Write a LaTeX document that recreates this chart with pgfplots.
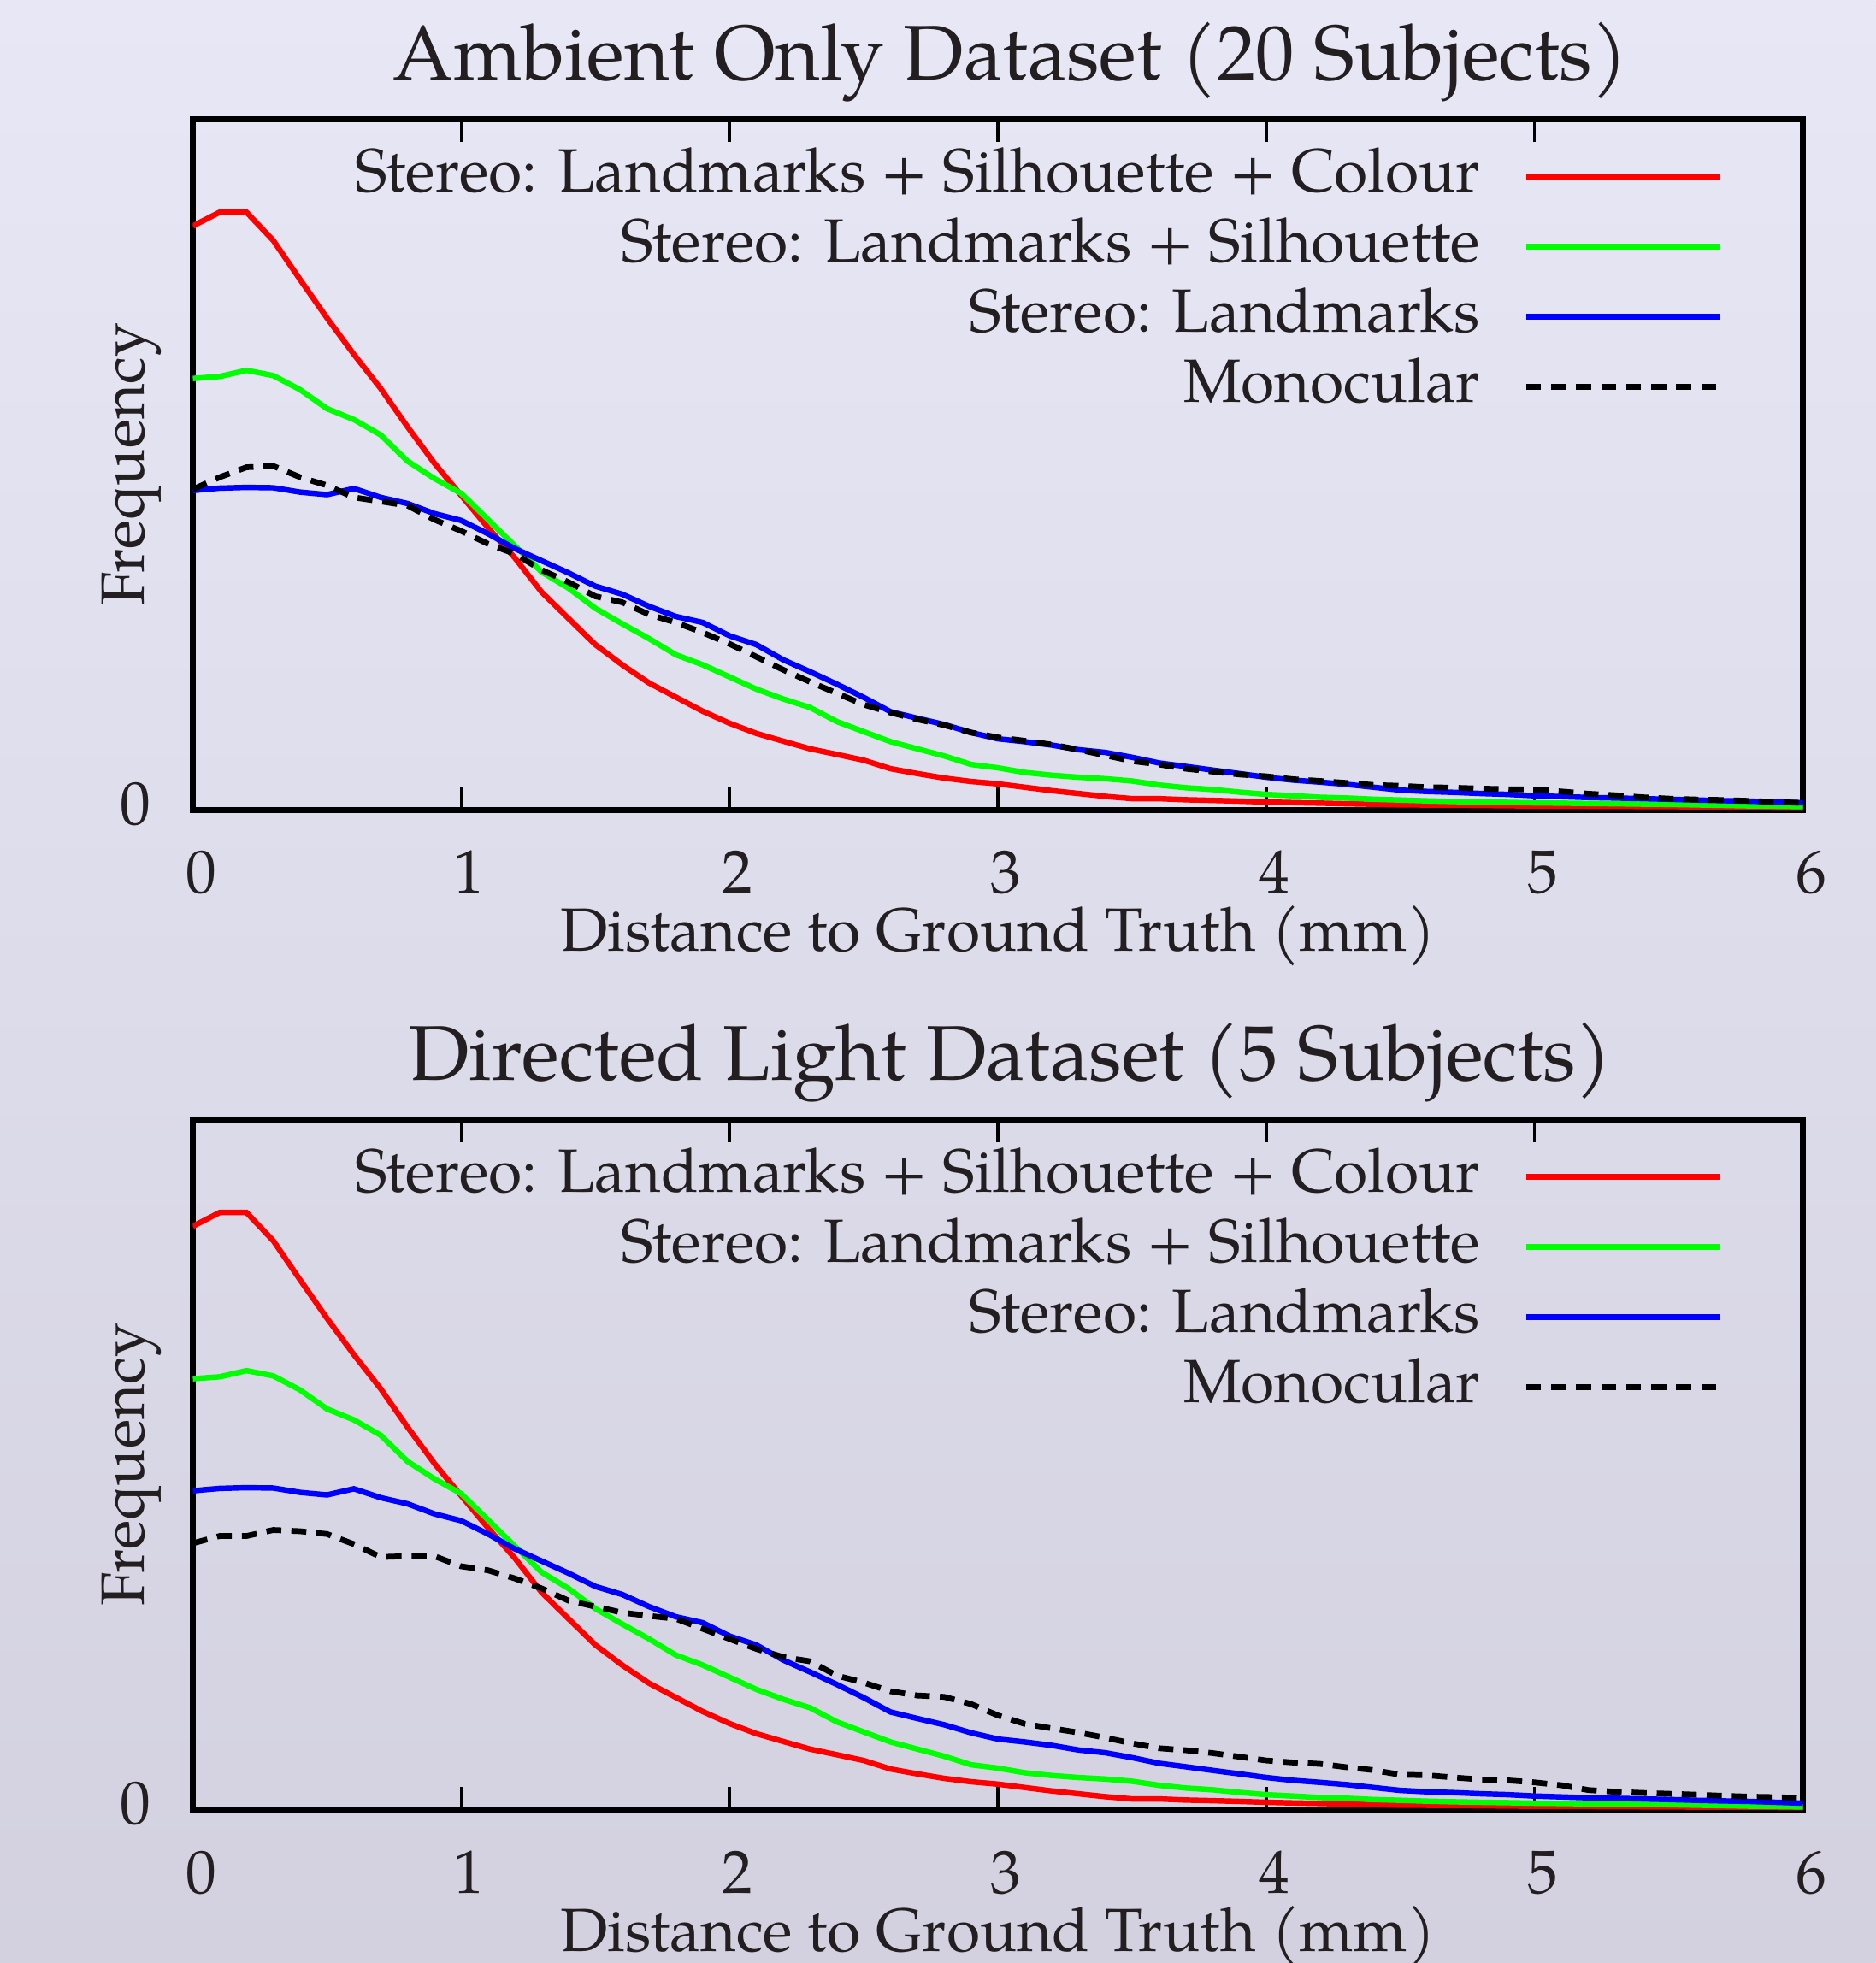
\documentclass[border=0pt]{standalone}
\usepackage{fontspec}
\setmainfont{TeX Gyre Pagella}
\usepackage{pgfplots}
\pgfplotsset{compat=1.18}
\usepackage{pgfplotstable}
\definecolor{txt}{RGB}{35,31,32}
\definecolor{bgtop}{RGB}{231,231,245}
\definecolor{bgbot}{RGB}{211,209,223}
\definecolor{gred}{RGB}{255,0,0}
\definecolor{ggreen}{RGB}{0,255,0}
\definecolor{gblue}{RGB}{0,0,255}

\pgfplotstableread{
x red green blue monoA monoB
0.0 466.5 344.7 255.2 256.1 213.3
0.1 477.5 346.3 257.1 265.8 219.1
0.2 477.5 351.2 257.7 273.8 219.1
0.3 454.9 347.0 257.4 274.8 223.9
0.4 423.6 335.7 253.9 265.8 222.9
0.5 393.0 320.6 251.9 259.3 220.7
0.6 364.0 311.9 256.8 249.7 212.6
0.7 336.7 299.6 249.7 246.5 202.3
0.8 306.1 278.7 244.8 243.2 203.0
0.9 277.1 264.8 236.8 232.0 203.0
1.0 251.3 252.9 231.3 222.9 194.9
1.1 225.5 232.0 220.7 212.6 191.7
1.2 201.4 211.0 208.8 204.6 185.2
1.3 174.0 190.1 199.1 191.7 177.2
1.4 153.0 177.2 189.4 182.0 167.5
1.5 132.1 161.1 178.8 170.7 162.7
1.6 116.0 148.8 172.4 165.9 157.9
1.7 101.5 136.9 162.7 156.2 155.3
1.8 90.2 124.0 154.6 149.8 153.0
1.9 78.9 116.0 149.8 141.8 145.0
2.0 69.3 106.3 139.2 132.7 136.9
2.1 61.2 96.6 132.1 122.4 128.9
2.2 55.0 88.7 120.0 112.0 122.4
2.3 48.9 81.9 110.5 102.4 119.0
2.4 44.4 70.6 100.5 93.3 107.6
2.5 39.8 62.6 90.0 84.2 102.0
2.6 33.0 54.6 78.5 77.8 95.1
2.7 29.1 48.9 73.3 72.4 91.7
2.8 25.5 43.2 68.3 67.8 90.6
2.9 22.8 36.4 61.9 61.9 84.9
3.0 20.9 33.7 56.9 58.0 75.8
3.1 18.2 30.0 54.6 55.3 69.0
3.2 15.5 27.8 51.9 52.3 65.5
3.3 13.2 26.2 48.2 48.2 62.1
3.4 10.9 25.0 46.0 43.7 58.0
3.5 9.1 23.2 42.1 39.1 53.5
3.6 9.1 20.0 37.6 36.4 49.6
3.7 8.2 17.8 34.8 33.0 48.0
3.8 7.7 16.4 31.9 30.7 45.7
3.9 7.1 14.3 29.1 28.4 42.8
4.0 6.4 12.5 26.2 26.9 39.8
4.1 5.9 11.4 23.9 24.6 38.2
4.2 5.5 10.2 22.3 23.2 37.1
4.3 5.0 9.6 20.5 21.6 34.4
4.4 4.6 8.6 18.2 20.0 32.1
4.5 4.1 8.0 15.9 19.3 28.4
4.6 4.0 7.3 14.8 18.2 28.0
4.7 3.8 6.8 14.1 17.8 26.2
4.8 3.6 6.4 13.2 17.1 24.6
4.9 3.4 6.1 12.5 16.6 23.9
5.0 3.2 5.7 11.4 16.4 22.3
5.1 3.1 5.5 10.7 14.8 20.0
5.2 3.0 5.2 10.0 13.0 16.2
5.3 2.9 5.0 9.6 11.8 14.8
5.4 2.8 4.7 9.1 10.2 13.9
5.5 2.7 4.5 8.6 9.1 13.2
5.6 2.6 4.1 8.0 8.4 12.5
5.7 2.5 3.7 7.5 8.0 11.6
5.8 2.4 3.3 7.1 7.3 10.9
5.9 2.3 3.0 6.4 6.4 10.5
6.0 2.2 2.7 5.7 5.7 9.8
}\data

\pgfplotsset{
  gp/.style={
    scale only axis, width=321.5pt, height=138pt,
    xmin=0, xmax=6, ymin=0, ymax=552,
    xtick={0,1,2,3,4,5,6}, ytick={0},
    axis line style={line width=1.2pt, black},
    major tick style={line width=0.6pt, black},
    major tick length=4.6pt,
    tick align=inside,
    ytick style={draw=none},
    font=\fontsize{12.2}{14}\selectfont,
    /pgf/number format/assume math mode=true,
    tick label style={text=txt},
    xticklabel style={anchor=base, yshift=-16.5pt, xshift=1.6pt, inner sep=0pt},
    yticklabel style={anchor=east, xshift=-8.2pt, yshift=1.25pt, inner sep=0pt},
    xlabel={Distance to Ground Truth (mm)},
    ylabel={Frequency},
    label style={text=txt},
    xlabel style={at={([yshift=-28.25pt]axis description cs:0.5,0)}, anchor=base},
    ylabel style={at={([xshift=-9.75pt]axis description cs:0,0.5)}, anchor=base},
    title style={at={([xshift=2.5pt,yshift=1.75pt]axis description cs:0.5,1)}, anchor=base,
      font=\fontsize{15.5}{18}\selectfont, text=txt},
    legend cell align=right,
    legend plot pos=right,
    legend image code/.code={\draw[#1] (0pt,0pt) -- (38.7pt,0pt);},
    legend style={at={([xshift=-16pt,yshift=-6pt]axis description cs:1,1)}, anchor=north east,
      draw=none, fill=none, inner sep=0pt, outer sep=0pt, row sep=3pt, column sep=8.6pt,
      nodes={inner sep=0pt, text height=8.6pt, text depth=2.4pt, text=txt},
      font=\fontsize{12.2}{14}\selectfont},
    every axis plot/.append style={line width=1.1pt},
  }
}

\begin{document}
\begin{tikzpicture}
\shade[top color=bgtop, bottom color=bgbot] (0pt,0pt) rectangle (374.5pt,-392pt);

\begin{axis}[gp, at={(38.5pt,-161.75pt)}, anchor=south west,
  title={Ambient Only Dataset (20 Subjects)}]
\addplot[gred, line width=1.1pt] table[x=x, y=red] {\data};
\addlegendentry{Stereo: Landmarks + Silhouette + Colour}
\addplot[ggreen, line width=1.1pt] table[x=x, y=green] {\data};
\addlegendentry{Stereo: Landmarks + Silhouette}
\addplot[gblue, line width=1.1pt] table[x=x, y=blue] {\data};
\addlegendentry{Stereo: Landmarks}
\addplot[black, line width=1.15pt, dash pattern=on 3pt off 2pt] table[x=x, y=monoA] {\data};
\addlegendentry{Monocular}
\end{axis}

\begin{axis}[gp, at={(38.5pt,-361.5pt)}, anchor=south west,
  title={Directed Light Dataset (5 Subjects)}]
\addplot[gred, line width=1.1pt] table[x=x, y=red] {\data};
\addlegendentry{Stereo: Landmarks + Silhouette + Colour}
\addplot[ggreen, line width=1.1pt] table[x=x, y=green] {\data};
\addlegendentry{Stereo: Landmarks + Silhouette}
\addplot[gblue, line width=1.1pt] table[x=x, y=blue] {\data};
\addlegendentry{Stereo: Landmarks}
\addplot[black, line width=1.15pt, dash pattern=on 3pt off 2pt] table[x=x, y=monoB] {\data};
\addlegendentry{Monocular}
\end{axis}

\pgfresetboundingbox
\path[use as bounding box] (0pt,0pt) rectangle (374.5pt,-392pt);
\end{tikzpicture}
\end{document}
